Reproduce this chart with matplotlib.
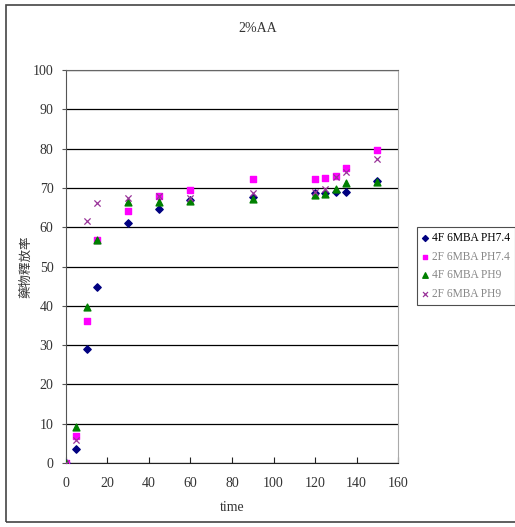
import matplotlib.pyplot as plt
from matplotlib.patches import Rectangle

# 時間 (time) 與各系列藥物釋放率
time = [0, 5, 10, 15, 30, 45, 60, 90, 120, 125, 130, 135, 150]
f4_ph74 = [0, 3.5, 28.9, 44.8, 61.0, 64.7, 66.9, 67.8, 68.6, 68.6, 69.1, 69.1, 71.7]
f2_ph74 = [0, 6.8, 36.2, 56.8, 64.2, 68.0, 69.5, 72.2, 72.2, 72.6, 73.1, 75.2, 79.7]
f4_ph9 = [0, 9.1, 39.6, 56.8, 66.4, 66.4, 66.8, 67.2, 68.3, 68.5, 69.7, 71.2, 71.5]
f2_ph9 = [0, 5.9, 61.6, 66.1, 67.4, 68.0, 67.5, 68.6, 69.1, 69.8, 72.7, 74.1, 77.4]
labels = ["4F 6MBA PH7.4", "2F 6MBA PH7.4", "4F 6MBA PH9", "2F 6MBA PH9"]

serif = "Liberation Serif"
cjk = ["Noto Sans CJK TC", "DejaVu Sans"]

fig = plt.figure(figsize=(5.15, 5.27), dpi=100)
ax = fig.add_axes([0.128, 0.1214, 0.645, 0.7456])

# 外框
fig.patches.append(Rectangle((6 / 515, 5 / 527), 1.0, 517 / 527, transform=fig.transFigure,
                             fill=False, edgecolor="#444444", linewidth=1.2))

ax.scatter(time, f4_ph74, marker="D", s=14, color="#000080", label=labels[0], zorder=3)
ax.scatter(time, f2_ph74, marker="s", s=18, color="#FF00FF", label=labels[1], zorder=3)
ax.scatter(time, f4_ph9, marker="^", s=24, color="#008000", label=labels[2], zorder=3)
ax.scatter(time, f2_ph9, marker="x", s=20, color="#993399", linewidths=0.9, label=labels[3], zorder=4)

ax.set_xlim(0, 160)
ax.set_ylim(0, 100)
ax.set_xticks(range(0, 161, 20))
ax.set_yticks(range(0, 101, 10))
ax.yaxis.grid(True, color="black", linewidth=0.9)
ax.set_axisbelow(True)

ax.spines["left"].set_color("#555555")
ax.spines["bottom"].set_color("#222222")
ax.spines["right"].set_color("#aaaaaa")
ax.spines["top"].set_color("#666666")
ax.tick_params(axis="x", direction="in", length=4, colors="#222222", labelcolor="#333333", pad=10)
ax.tick_params(axis="y", direction="out", length=3, colors="#555555", labelcolor="#333333", pad=6)
for lab in ax.get_xticklabels() + ax.get_yticklabels():
    lab.set_fontfamily(serif)
    lab.set_fontsize(10)

ax.set_xlabel("time", fontfamily=serif, fontsize=10, color="#333333", labelpad=8)
ax.set_ylabel("藥物釋放率", fontfamily=cjk, fontsize=9, color="#333333")
ax.yaxis.set_label_coords(-0.100, 0.5)
fig.text(258 / 515, 1 - 28 / 527, "2%AA", ha="center", va="center",
         fontfamily=serif, fontsize=10, color="#333333")

leg = fig.legend(loc="upper left", bbox_to_anchor=(417 / 515, 1 - 227 / 527),
                 prop={"family": serif, "size": 8.3}, frameon=True, fancybox=False,
                 edgecolor="#222222", handletextpad=0.3, handlelength=0.6,
                 borderpad=0.4, labelspacing=0.6, borderaxespad=0,
                 markerscale=0.8)
leg.get_frame().set_linewidth(0.8)
for i, t in enumerate(leg.get_texts()):
    t.set_color("#000000" if i == 0 else "#888888")

fig.savefig("out.png", dpi=100)
